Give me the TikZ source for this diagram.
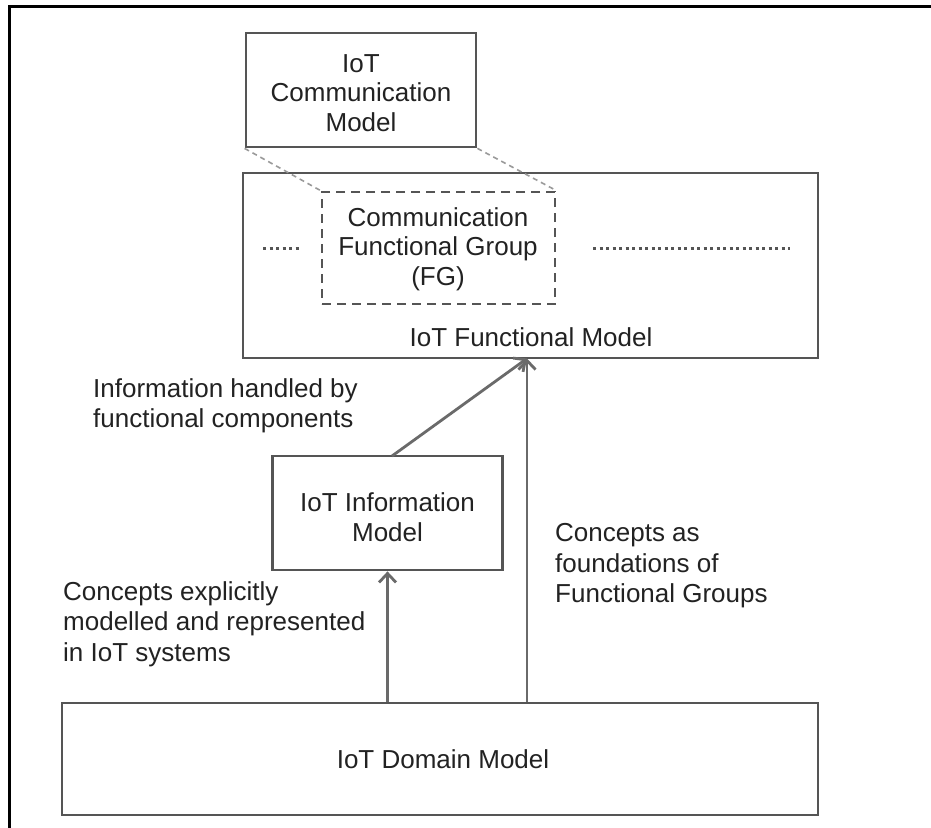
\documentclass[tikz,border=0pt]{standalone}
\usepackage{fontspec}
\setmainfont{Liberation Sans}
\usetikzlibrary{arrows.meta}
\definecolor{boxc}{HTML}{555555}
\definecolor{arrc}{HTML}{6A6A6A}
\definecolor{txtc}{HTML}{222222}
\definecolor{dashc}{HTML}{9A9A9A}
\begin{document}
\begin{tikzpicture}[x=1bp,y=-1bp,
  txt/.style={font=\fontsize{26bp}{29.5bp}\selectfont, text=txtc, align=center, inner sep=0pt},
  box/.style={draw=boxc, line width=2.8bp, inner sep=0pt},
  fgbox/.style={draw=boxc, line width=2.8bp, inner sep=0pt, dash pattern=on 9bp off 6bp},
  arr/.style={draw=arrc, line width=2.8bp, -{Straight Barb[length=9bp,width=17bp,line width=2.8bp]}},
  conn/.style={draw=dashc, line width=1.6bp, dash pattern=on 5bp off 4bp},
  dots/.style={draw=boxc, line width=3bp, dash pattern=on 3bp off 3.5bp},
  lab/.style={font=\fontsize{26bp}{30.5bp}\selectfont, text=txtc, align=left, inner sep=0pt, anchor=west}
]
\useasboundingbox (0,0) rectangle (931,828);
\fill[white] (-10,-10) rectangle (941,838);
% outer frame (top and left edges only visible)
\draw[black, line width=3.5bp] (9.5,840) -- (9.5,6.5) -- (940,6.5);

% boxes
\node[box, minimum width=230bp, minimum height=114bp] (comm) at (361,90) {};
\node[txt] (commt) at (361,93) {IoT\\Communication\\Model};

\node[box, minimum width=575bp, minimum height=185bp] (func) at (530.5,265.5) {};
\node[txt] (funct) at (531,337) {IoT Functional Model};

\node[fgbox, minimum width=233bp, minimum height=112bp] (fg) at (438.5,248) {};
\node[txt] (fgt) at (438,249) {Communication\\Functional Group\\(FG)};

\node[box, minimum width=230bp, minimum height=114bp] (info) at (387.5,513) {};
\node[txt] (infot) at (387.5,517) {IoT Information\\Model};

\node[box, minimum width=756bp, minimum height=112bp] (domain) at (440,759) {};
\node[txt] (domaint) at (443,759) {IoT Domain Model};

% dotted ellipses inside functional model
\coordinate (dl1) at (263,248);
\coordinate (dl2) at (300,248);
\coordinate (dr1) at (593,248);
\coordinate (dr2) at (790,248);
\draw[dots] (dl1) -- (dl2);
\draw[dots] (dr1) -- (dr2);

% dashed connectors comm -> FG
\draw[conn] (comm.south west) -- (fg.north west);
\draw[conn] (comm.south east) -- (fg.north east);

% arrows
\coordinate (tip) at (527,358.5);
\coordinate (istart) at (392,456);
\draw[arr] (istart) -- (tip);
\draw[arr] (domain.north -| tip) -- (tip);
\draw[arr] (domain.north -| info.south) -- (info.south);

% labels
\node[lab] (l1) at (93,406) {Information handled by\\functional components};
\node[lab] (l2) at (63,624) {Concepts explicitly\\modelled and represented\\in IoT systems};
\node[lab] (l3) at (555,566) {Concepts as\\foundations of\\Functional Groups};
\end{tikzpicture}
\end{document}
